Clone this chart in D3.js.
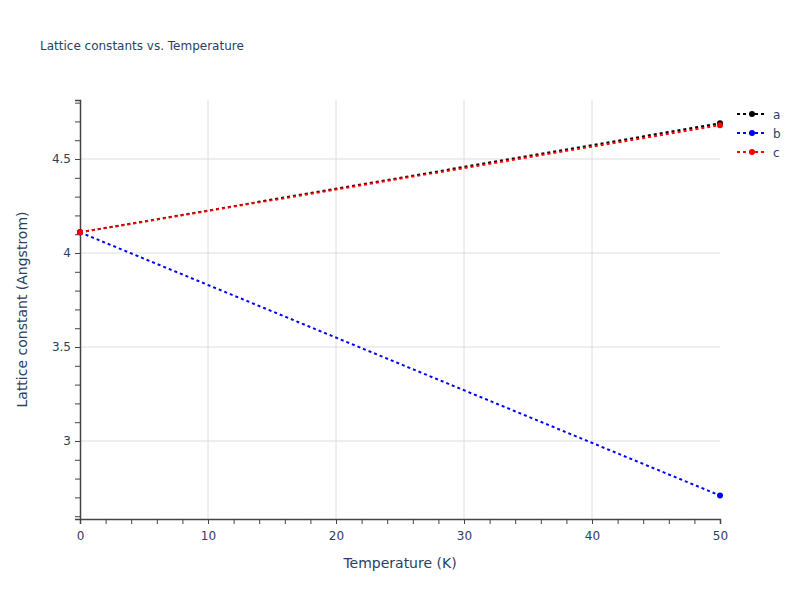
<html>
<head>
<script src="https://d3js.org/d3.v7.min.js"></script>
<style>body{margin:0;font-family:"DejaVu Sans",sans-serif;}</style>
</head>
<body>
<script>
// data
var temps = [0, 50];
var seriesNames = ["a", "b", "c"];
var aVals = [4.11, 4.69];
var bVals = [4.11, 2.71];
var cVals = [4.11, 4.68];
var colors = ["black", "blue", "red"];
var xTicks = [0, 10, 20, 30, 40, 50];
var yTicks = [3, 3.5, 4, 4.5];

var W = 800, H = 600;
var margin = {top: 100, right: 80, bottom: 81, left: 80};
var width = W - margin.left - margin.right,
    height = H - margin.top - margin.bottom;

var svg = d3.select("body").append("svg").attr("width", W).attr("height", H);
svg.append("rect").attr("width", W).attr("height", H).attr("fill", "white");

var g = svg.append("g").attr("transform", "translate(" + margin.left + "," + margin.top + ")");

var x = d3.scaleLinear().domain([0, 50]).range([0, width]);
var y = d3.scaleLinear().domain([2.585, 4.814]).range([height, 0]);

// grid
g.selectAll(".gx").data(xTicks.slice(1, -1)).enter().append("line")
    .attr("x1", d => x(d)).attr("x2", d => x(d)).attr("y1", 0).attr("y2", height)
    .attr("stroke", "#dedede");
g.selectAll(".gy").data(yTicks).enter().append("line")
    .attr("y1", d => y(d)).attr("y2", d => y(d)).attr("x1", 0).attr("x2", width)
    .attr("stroke", "#dedede");

// axes with minor ticks
var xAx = g.append("g").attr("transform", "translate(0," + height + ")")
    .call(d3.axisBottom(x).tickValues(d3.range(0, 51, 2)).tickSize(5).tickFormat(d => d % 10 === 0 ? d : ""));
var yAx = g.append("g")
    .call(d3.axisLeft(y).tickValues(d3.range(26, 49).map(d => d / 10)).tickSize(5)
        .tickFormat(d => yTicks.some(t => Math.abs(t - d) < 1e-6) ? d3.format("~g")(d) : ""));
[xAx, yAx].forEach(function(a) {
    a.select(".domain").attr("stroke", "#444").attr("stroke-width", 1.5);
    a.selectAll(".tick line").attr("stroke", "#444");
    a.selectAll("text").attr("fill", "#2a3f5f").style("font-size", "12px").style("font-family", "DejaVu Sans");
});
xAx.selectAll("text").attr("dy", "1.1em");
yAx.selectAll(".tick text").attr("x", -9);

// lines
var series = [aVals, bVals, cVals];
var line = d3.line().x((d, i) => x(temps[i])).y(d => y(d));
series.forEach(function(vals, k) {
    g.append("path").datum(vals).attr("d", line).attr("fill", "none")
        .attr("stroke", colors[k]).attr("stroke-width", 2).attr("stroke-dasharray", "3,3");
    g.selectAll(".m" + k).data(vals).enter().append("circle")
        .attr("cx", (d, i) => x(temps[i])).attr("cy", d => y(d)).attr("r", 3)
        .attr("fill", colors[k]);
});

// legend
var leg = svg.append("g").attr("transform", "translate(737,114)");
seriesNames.forEach(function(n, k) {
    var r = leg.append("g").attr("transform", "translate(0," + k * 19 + ")");
    r.append("line").attr("x1", 0).attr("x2", 30).attr("stroke", colors[k])
        .attr("stroke-width", 2).attr("stroke-dasharray", "3,3");
    r.append("circle").attr("cx", 15).attr("r", 3).attr("fill", colors[k]);
    r.append("text").attr("x", 36).attr("y", 4.5).text(n)
        .attr("fill", "#2a3f5f").style("font-size", "12px");
});

// titles
svg.append("text").attr("x", 40).attr("y", 50).text("Lattice constants vs. Temperature")
    .attr("fill", "#2a3f5f").style("font-size", "12px");
svg.append("text").attr("x", margin.left + width / 2).attr("y", 568).attr("text-anchor", "middle")
    .text("Temperature (K)").attr("fill", "#2a3f5f").style("font-size", "14px");
svg.append("text").attr("transform", "translate(27," + (margin.top + height / 2) + ") rotate(-90)")
    .attr("text-anchor", "middle").text("Lattice constant (Angstrom)")
    .attr("fill", "#2a3f5f").style("font-size", "14px");
</script>
</body>
</html>
